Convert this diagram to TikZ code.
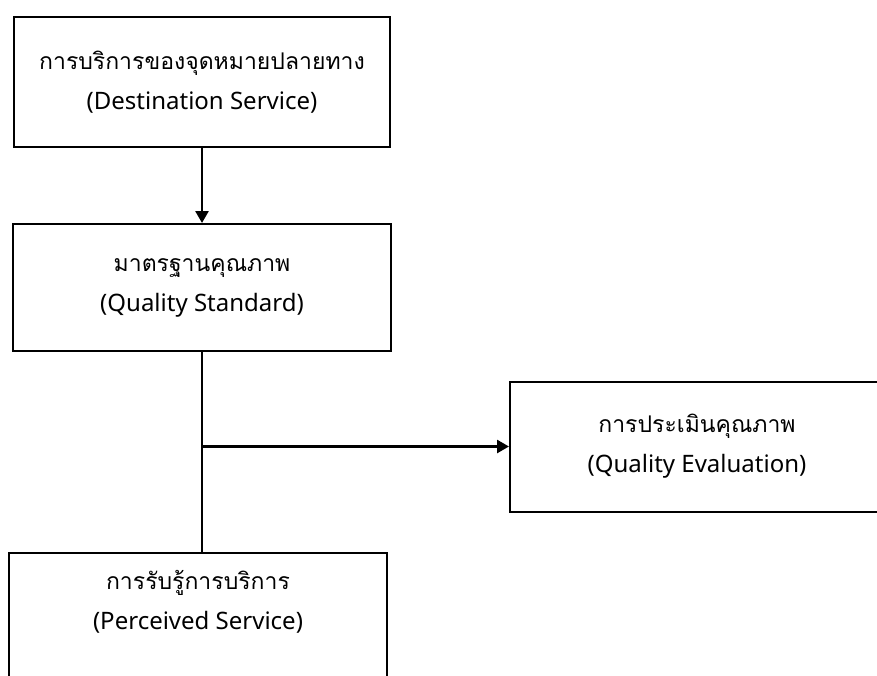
\documentclass[tikz,border=0pt]{standalone}
\usepackage{fontspec}
\setmainfont{Noto Sans}
\newfontfamily\thaifont[Script=Thai]{Loma}
\usetikzlibrary{arrows.meta,positioning}
\newcommand{\thaitext}[1]{{\thaifont\fontsize{11.5}{20}\selectfont #1}}

\begin{document}
\begin{tikzpicture}[
  x=0.5pt, y=-0.5pt,
  node distance=37.5pt and 37.5pt,
  box/.style={draw, line width=1pt, align=center, font=\fontsize{12}{20}\selectfont, minimum width=188pt, minimum height=65pt, inner sep=0pt},
  arr/.style={-{Triangle[length=6pt, width=6.5pt]}, line width=1.3pt}
]
\useasboundingbox (0,0) rectangle (877,675);
\node[box] (dest) at (202,82) {\thaitext{การบริการของจุดหมายปลายทาง}\\(Destination Service)};
\node[box, below=of dest, minimum width=189pt, minimum height=63.5pt] (qual) {\thaitext{มาตรฐานคุณภาพ}\\(Quality Standard)};
\node[box, minimum width=187pt] (eval) at (697,446.5) {\thaitext{การประเมินคุณภาพ}\\(Quality Evaluation)};
\node[box, anchor=north, minimum width=189pt, minimum height=80pt, text depth=33pt] (perc) at (198,552) {\thaitext{การรับรู้การบริการ}\\(Perceived Service)};
\draw[arr] (dest) -- (qual);
\draw[line width=1.3pt] (qual.south) -- (qual.south |- perc.north);
\draw[arr] (qual.south |- eval.west) -- (eval.west);
\end{tikzpicture}
\end{document}
